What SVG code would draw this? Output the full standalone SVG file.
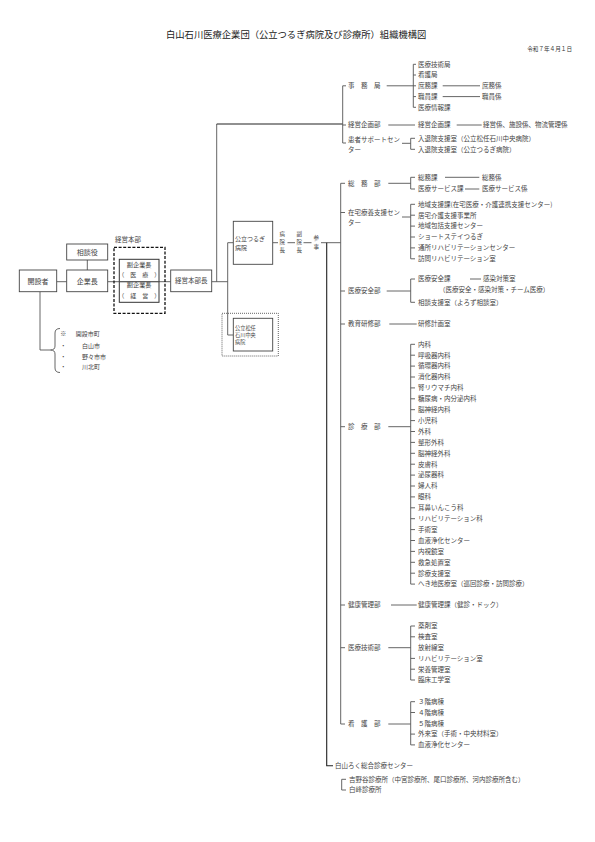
<svg xmlns="http://www.w3.org/2000/svg" width="595" height="842" viewBox="0 0 595 842">
<style>
.t{font-family:"Noto Sans CJK JP","Noto Sans CJK SC",sans-serif;font-size:6.5px;fill:#444}
.s{font-size:5.5px}
.n{font-size:6px}
.b{font-size:7px}
.m{text-anchor:middle}
.ln{stroke:#555;stroke-width:0.9;fill:none}
.dk{stroke:#222;stroke-width:1.1;fill:none}
.box{fill:#fff;stroke:#444;stroke-width:0.9}
</style>
<rect width="595" height="842" fill="#fff"/>
<text class="t" x="166" y="38.3" style="font-size:9.3px;fill:#222">白山石川医療企業団（公立つるぎ病院及び診療所）組織機構図</text>
<text class="t" x="572" y="51.3" style="font-size:5.6px;text-anchor:end;fill:#333">令和７年４月１日</text>

<g id="connectors">
<path class="ln" d="M56.7 281.7H66.7M87.3 260V270M107.7 281.7H170.7M211.7 281.7H227.7"/>
<path class="ln" d="M216.7 281.7V124"/>
<path class="dk" d="M216.7 124H342.7"/>
<path class="ln" d="M346 85.8H342.7V143H346M342.7 125H346"/>
<path class="ln" d="M386.7 85.8H416M416 64.3H413.3V107.3H416M413.3 75H416M413.3 96.6H416"/>
<path class="ln" d="M442.7 85.8H480M442.7 96.6H480"/>
<path class="ln" d="M388.3 125H415M456.7 125H481.7"/>
<path class="ln" d="M402 143.3H410.7M415 138.3H410.7V149.3H415"/>
<path class="ln" d="M227.7 242.7V335H233.3M227.7 242.7H233.3"/>
<path class="ln" d="M272.7 242.7H278M287.5 242.7H295M303.5 242.7H311.5M321 242.7H340.7"/>
<path class="dk" d="M326.7 242.7V765.7H333"/>
<path class="ln" d="M345 183.3H340.7V724H345M340.7 212.5H345M340.7 291H345M340.7 324H345M340.7 426.7H345M340.7 605H345M340.7 647.7H345"/>
<path class="ln" d="M388.3 183.3H410.7M415 177.3H410.7V189H415M445 177.3H479.3M465 189H479.3"/>
<path class="ln" d="M402 217H410.7M415 204.3H410.7V258.8H415M410.7 215.2H415M410.7 226.1H415M410.7 237H415M410.7 247.9H415"/>
<path class="ln" d="M386.7 291H410.7M415 279H410.7V302.3H415M470 279H481"/>
<path class="ln" d="M389.3 324H416.7"/>
<path class="ln" d="M388.3 426.7H410.7M415 344.3H410.7V584.1H415M410.7 355.2H415M410.7 366.1H415M410.7 377H415M410.7 387.9H415M410.7 398.8H415M410.7 409.7H415M410.7 420.6H415M410.7 431.5H415M410.7 442.4H415M410.7 453.3H415M410.7 464.2H415M410.7 475.1H415M410.7 486H415M410.7 496.9H415M410.7 507.8H415M410.7 518.7H415M410.7 529.6H415M410.7 540.5H415M410.7 551.4H415M410.7 562.3H415M410.7 573.2H415"/>
<path class="ln" d="M391 605H416.7"/>
<path class="ln" d="M388.3 647.7H410.7M415 626H410.7V680H415M410.7 636.8H415M410.7 658.4H415M410.7 669.2H415"/>
<path class="ln" d="M388.3 724H410.7M415 701.7H410.7V744.9H415M410.7 712.5H415M410.7 734.1H415"/>
<path class="ln" d="M346 779.3H341.7V790H346"/>
<path class="ln" d="M40 291.7V350H50.5"/>
<path class="ln" d="M60 328.5Q55 328.5 55 333V346Q55 350 50.5 350Q55 350 55 354V368Q55 372.5 60 372.5"/>
</g>

<g id="kaisetsusha">
<rect class="box" x="19.3" y="270" width="37.4" height="21.7"/>
<text class="t b m" x="38" y="283.5">開設者</text>
</g>
<g id="kigyocho">
<rect class="box" x="66.7" y="270" width="41" height="21.7"/>
<text class="t b m" x="87.2" y="283.5">企業長</text>
</g>
<g id="sodanyaku">
<rect class="box" x="66.7" y="244" width="41" height="16"/>
<text class="t b m" x="87.2" y="254.5">相談役</text>
</g>
<g id="keiei-honbu">
<text class="t" x="115" y="242.3">経営本部</text>
<rect x="114" y="247.3" width="51" height="66" fill="none" stroke="#111" stroke-width="1.3" stroke-dasharray="3 1.6"/>
<rect x="119.3" y="259.3" width="39.7" height="43" fill="none" stroke="#333" stroke-width="1"/>
<path class="ln" d="M119.3 281.7H159"/>
<text class="t m" x="139.2" y="266.7" style="font-size:6.2px">副企業長</text>
<text class="t n m" x="139.2" y="277.2">（　医　療　）</text>
<text class="t m" x="139.2" y="287.2" style="font-size:6.2px">副企業長</text>
<text class="t n m" x="139.2" y="297.7">（　経　営　）</text>
</g>
<g id="keiei-honbucho">
<rect class="box" x="170.7" y="270" width="41" height="21.7"/>
<text class="t m" x="191.2" y="283.3">経営本部長</text>
</g>
<g id="tsurugi">
<rect class="box" x="233.3" y="221.3" width="39.4" height="43"/>
<text class="t" x="235" y="241.4" style="font-size:6px">公立つるぎ</text>
<text class="t" x="235" y="249.6" style="font-size:6px">病院</text>
</g>
<g id="matto">
<rect x="222" y="313.3" width="56.3" height="42.7" fill="none" stroke="#222" stroke-width="0.7" stroke-dasharray="1 1"/>
<rect class="box" x="233.3" y="318.3" width="39.4" height="32.7"/>
<text class="t" x="235" y="330.2" style="font-size:5.2px">公立松任</text>
<text class="t" x="235" y="337.2" style="font-size:5.2px">石川中央</text>
<text class="t" x="235" y="344.2" style="font-size:5.2px">病院</text>
</g>
<g id="yakushoku">
<text class="t s m" x="282.3" y="236.2">病</text>
<text class="t s m" x="282.3" y="244.2">院</text>
<text class="t s m" x="282.3" y="252.2">長</text>
<text class="t s m" x="299.3" y="236.2">副</text>
<text class="t s m" x="299.3" y="244.2">院</text>
<text class="t s m" x="299.3" y="252.2">長</text>
<text class="t s m" x="316.3" y="240.3">参</text>
<text class="t s m" x="316.3" y="248.5">事</text>
</g>

<g id="jimukyoku">
<text class="t" x="348 361 374" y="88.1">事務局</text>
<text class="t" x="418" y="66.6">医療技術局</text>
<text class="t" x="418" y="77.3">看護局</text>
<text class="t" x="418" y="88.1">庶務課</text>
<text class="t" x="482" y="88.1">庶務係</text>
<text class="t" x="418" y="98.9">職員課</text>
<text class="t" x="482" y="98.9">職員係</text>
<text class="t" x="418" y="109.6">医療情報課</text>
</g>
<g id="keiei-kikaku">
<text class="t" x="348" y="127.3">経営企画部</text>
<text class="t" x="418" y="127.3">経営企画課</text>
<text class="t" x="483" y="127.3">経営係、施設係、物流管理係</text>
</g>
<g id="kanja-support">
<text class="t" x="348" y="141.8">患者サポートセン</text>
<text class="t" x="348" y="151.6">ター</text>
<text class="t" x="418" y="140.6">入退院支援室（公立松任石川中央病院）</text>
<text class="t" x="418" y="151.6">入退院支援室（公立つるぎ病院）</text>
</g>
<g id="somubu">
<text class="t" x="348 361 374" y="185.6">総務部</text>
<text class="t" x="418" y="179.6">総務課</text>
<text class="t" x="482" y="179.6">総務係</text>
<text class="t" x="418" y="191.3">医療サービス課</text>
<text class="t" x="482" y="191.3">医療サービス係</text>
</g>
<g id="zaitaku">
<text class="t" x="348" y="214.8">在宅療養支援セン</text>
<text class="t" x="348" y="225">ター</text>
<text class="t" x="418" y="206.6">地域支援課(在宅医療・介護連携支援センター)</text>
<text class="t" x="418" y="217.5">居宅介護支援事業所</text>
<text class="t" x="418" y="228.4">地域包括支援センター</text>
<text class="t" x="418" y="239.3">ショートステイつるぎ</text>
<text class="t" x="418" y="250.2">通所リハビリテーションセンター</text>
<text class="t" x="418" y="261.1">訪問リハビリテーション室</text>
</g>
<g id="iryo-anzen">
<text class="t" x="348" y="293.3">医療安全部</text>
<text class="t" x="418" y="281.3">医療安全課</text>
<text class="t" x="483" y="281.3">感染対策室</text>
<text class="t" x="439" y="292.3">（医療安全・感染対策・チーム医療）</text>
<text class="t" x="418" y="304.6">相談支援室（よろず相談室）</text>
</g>
<g id="kyoiku">
<text class="t" x="348" y="326.3">教育研修部</text>
<text class="t" x="418" y="326.3">研修計画室</text>
</g>
<g id="shinryobu">
<text class="t" x="348 361 374" y="429">診療部</text>
<text class="t" x="418" y="346.6">内科</text>
<text class="t" x="418" y="357.5">呼吸器内科</text>
<text class="t" x="418" y="368.4">循環器内科</text>
<text class="t" x="418" y="379.3">消化器内科</text>
<text class="t" x="418" y="390.2">腎リウマチ内科</text>
<text class="t" x="418" y="401.1">糖尿病・内分泌内科</text>
<text class="t" x="418" y="412">脳神経内科</text>
<text class="t" x="418" y="422.9">小児科</text>
<text class="t" x="418" y="433.8">外科</text>
<text class="t" x="418" y="444.7">整形外科</text>
<text class="t" x="418" y="455.6">脳神経外科</text>
<text class="t" x="418" y="466.5">皮膚科</text>
<text class="t" x="418" y="477.4">泌尿器科</text>
<text class="t" x="418" y="488.3">婦人科</text>
<text class="t" x="418" y="499.2">眼科</text>
<text class="t" x="418" y="510.1">耳鼻いんこう科</text>
<text class="t" x="418" y="521">リハビリテーション科</text>
<text class="t" x="418" y="531.9">手術室</text>
<text class="t" x="418" y="542.8">血液浄化センター</text>
<text class="t" x="418" y="553.7">内視鏡室</text>
<text class="t" x="418" y="564.6">救急処置室</text>
<text class="t" x="418" y="575.5">診療支援室</text>
<text class="t" x="418" y="586.4">へき地医療室（巡回診療・訪問診療）</text>
</g>
<g id="kenko">
<text class="t" x="348" y="607.3">健康管理部</text>
<text class="t" x="418" y="607.3">健康管理課（健診・ドック）</text>
</g>
<g id="iryo-gijutsu">
<text class="t" x="348" y="650">医療技術部</text>
<text class="t" x="418" y="628.3">薬剤室</text>
<text class="t" x="418" y="639.1">検査室</text>
<text class="t" x="418" y="649.9">放射線室</text>
<text class="t" x="418" y="660.7">リハビリテーション室</text>
<text class="t" x="418" y="671.5">栄養管理室</text>
<text class="t" x="418" y="682.3">臨床工学室</text>
</g>
<g id="kangobu">
<text class="t" x="348 361 374" y="726.3">看護部</text>
<text class="t" x="418" y="704">３階病棟</text>
<text class="t" x="418" y="714.8">４階病棟</text>
<text class="t" x="418" y="725.6">５階病棟</text>
<text class="t" x="418" y="736.4">外来室（手術・中央材料室）</text>
<text class="t" x="418" y="747.2">血液浄化センター</text>
</g>
<g id="hakusan">
<text class="t" x="335" y="768">白山ろく総合診療センター</text>
<text class="t" x="349" y="781.6">吉野谷診療所（中宮診療所、尾口診療所、河内診療所含む）</text>
<text class="t" x="349" y="792.3">白峰診療所</text>
</g>
<g id="note">
<text class="t n" x="60.3" y="336.4">※</text>
<text class="t n" x="75.7" y="336.4">開設市町</text>
<text class="t n" x="60.3" y="348.1">・</text>
<text class="t n" x="82" y="348.1">白山市</text>
<text class="t n" x="60.3" y="358.8">・</text>
<text class="t n" x="82" y="358.8">野々市市</text>
<text class="t n" x="60.3" y="368.8">・</text>
<text class="t n" x="82" y="368.8">川北町</text>
</g>
</svg>
